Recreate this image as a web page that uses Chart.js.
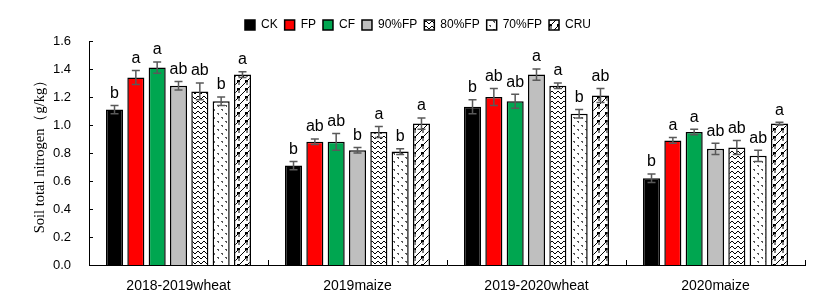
<!DOCTYPE html>
<html>
<head>
<meta charset="utf-8">
<script src="https://cdn.jsdelivr.net/npm/chart.js@4"></script>
<style>
  html, body { margin: 0; padding: 0; background: #fff; }
  #wrap { width: 825px; height: 308px; }
</style>
</head>
<body>
<div id="wrap"><canvas id="chart" width="825" height="308"></canvas></div>
<script>
const categories = ['2018-2019wheat', '2019maize', '2019-2020wheat', '2020maize'];
const treatments = ['CK', 'FP', 'CF', '90%FP', '80%FP', '70%FP', 'CRU'];

// mean values per treatment, one entry per category
const ckValues   = [1.11, 0.71, 1.13, 0.62];
const fpValues   = [1.34, 0.88, 1.20, 0.89];
const cfValues   = [1.41, 0.88, 1.17, 0.95];
const fp90Values = [1.28, 0.82, 1.36, 0.83];
const fp80Values = [1.24, 0.95, 1.28, 0.84];
const fp70Values = [1.17, 0.81, 1.08, 0.78];
const cruValues  = [1.36, 1.01, 1.21, 1.01];

// standard errors
const ckErr   = [0.03, 0.03, 0.05, 0.03];
const fpErr   = [0.05, 0.02, 0.06, 0.02];
const cfErr   = [0.04, 0.06, 0.05, 0.02];
const fp90Err = [0.03, 0.02, 0.04, 0.04];
const fp80Err = [0.06, 0.04, 0.02, 0.05];
const fp70Err = [0.03, 0.02, 0.03, 0.04];
const cruErr  = [0.02, 0.04, 0.05, 0.01];

// significance letters
const ckSig   = ['b', 'b', 'b', 'b'];
const fpSig   = ['a', 'ab', 'ab', 'a'];
const cfSig   = ['a', 'ab', 'ab', 'a'];
const fp90Sig = ['ab', 'b', 'a', 'ab'];
const fp80Sig = ['ab', 'a', 'a', 'ab'];
const fp70Sig = ['b', 'b', 'b', 'ab'];
const cruSig  = ['a', 'a', 'ab', 'a'];

const yTicks = [0, 0.2, 0.4, 0.6, 0.8, 1.0, 1.2, 1.4, 1.6];

// --- fill patterns ---
function makeTile(w, h, draw) {
  const c = document.createElement('canvas');
  c.width = w; c.height = h;
  const g = c.getContext('2d');
  g.fillStyle = '#fff';
  g.fillRect(0, 0, w, h);
  g.strokeStyle = '#000';
  g.fillStyle = '#000';
  g.lineWidth = 1;
  draw(g);
  return document.getElementById('chart').getContext('2d').createPattern(c, 'repeat');
}

const zigzag = makeTile(6, 5, g => {
  g.beginPath();
  g.moveTo(0, 1); g.lineTo(3, 4); g.lineTo(6, 1);
  g.stroke();
});

const dots = makeTile(8, 8, g => {
  g.fillStyle = '#555';
  g.fillRect(1, 1, 2, 1);
  g.fillRect(2, 2, 1, 1);
  g.fillRect(5, 5, 2, 1);
  g.fillRect(6, 6, 1, 1);
});

const lattice = makeTile(8, 8, g => {
  g.beginPath();
  g.moveTo(0, 8); g.lineTo(7, 1);
  g.moveTo(7, 1); g.lineTo(7, 5);
  g.stroke();
  g.fillRect(5, 0, 3, 2);
});

const fills = ['#000000', '#ff0000', '#00a650', '#bfbfbf', zigzag, dots, lattice];
const values = [ckValues, fpValues, cfValues, fp90Values, fp80Values, fp70Values, cruValues];
const errors = [ckErr, fpErr, cfErr, fp90Err, fp80Err, fp70Err, cruErr];
const sigs = [ckSig, fpSig, cfSig, fp90Sig, fp80Sig, fp70Sig, cruSig];

const datasets = treatments.map((t, i) => ({
  label: t,
  data: values[i],
  backgroundColor: fills[i],
  borderColor: '#000',
  borderWidth: 1.5,
  barPercentage: 0.8,
  categoryPercentage: 0.834
}));

// error bars + letters
const errorBars = {
  id: 'errorBars',
  afterDatasetsDraw(chart) {
    const ctx = chart.ctx;
    const y = chart.scales.y;
    ctx.save();
    chart.data.datasets.forEach((ds, i) => {
      const meta = chart.getDatasetMeta(i);
      meta.data.forEach((bar, j) => {
        const v = ds.data[j], e = errors[i][j];
        const top = y.getPixelForValue(v + e);
        const bot = y.getPixelForValue(v - e);
        ctx.strokeStyle = '#595959';
        ctx.lineWidth = 1.5;
        ctx.beginPath();
        ctx.moveTo(bar.x, top); ctx.lineTo(bar.x, bot);
        ctx.moveTo(bar.x - 4, top); ctx.lineTo(bar.x + 4, top);
        ctx.moveTo(bar.x - 4, bot); ctx.lineTo(bar.x + 4, bot);
        ctx.stroke();
        ctx.fillStyle = '#000';
        ctx.font = '16px "Liberation Sans", Arial, sans-serif';
        ctx.textAlign = 'center';
        ctx.textBaseline = 'bottom';
        ctx.fillText(sigs[i][j], bar.x, top - 4);
      });
    });
    ctx.restore();
  }
};

// inward tick marks
const innerTicks = {
  id: 'innerTicks',
  afterDraw(chart) {
    const ctx = chart.ctx;
    const { x, y } = chart.scales;
    ctx.save();
    ctx.strokeStyle = '#000';
    ctx.lineWidth = 1;
    ctx.beginPath();
    yTicks.forEach(v => {
      const py = Math.round(y.getPixelForValue(v)) + 0.5;
      ctx.moveTo(x.left, py); ctx.lineTo(x.left + 4, py);
    });
    const step = (x.right - x.left) / categories.length;
    for (let i = 1; i <= categories.length; i++) {
      const px = Math.round(x.left + i * step) + 0.5;
      ctx.moveTo(px, y.bottom); ctx.lineTo(px, y.bottom - 5);
    }
    ctx.stroke();
    ctx.restore();
  }
};

new Chart(document.getElementById('chart'), {
  type: 'bar',
  data: { labels: categories, datasets: datasets },
  options: {
    responsive: false,
    animation: false,
    layout: { padding: { left: 31, right: 20, top: 12, bottom: 0 } },
    plugins: {
      legend: {
        position: 'top',
        labels: {
          boxWidth: 10,
          boxHeight: 10,
          padding: 7,
          color: '#000',
          font: { family: '"Liberation Sans", Arial, sans-serif', size: 12 }
        }
      },
      tooltip: { enabled: false }
    },
    scales: {
      x: {
        grid: { display: false },
        border: { display: true, color: '#000', width: 1 },
        ticks: {
          color: '#000',
          padding: 5,
          font: { family: '"Liberation Sans", Arial, sans-serif', size: 14 }
        },
        afterFit(scale) { scale.height = 43; }
      },
      y: {
        min: 0,
        max: 1.6,
        grid: { display: false },
        border: { display: true, color: '#000', width: 1 },
        afterBuildTicks(scale) { scale.ticks = yTicks.map(v => ({ value: v })); },
        ticks: {
          color: '#000',
          padding: 10,
          font: { family: '"Liberation Sans", Arial, sans-serif', size: 13 },
          callback: v => v.toFixed(1)
        },
        title: {
          display: true,
          text: 'Soil total nitrogen（g/kg）',
          color: '#000',
          padding: 0,
          font: { family: '"Liberation Serif", "Times New Roman", serif', size: 14.5 }
        },
        afterFit(scale) { scale.width = 58; }
      }
    }
  },
  plugins: [errorBars, innerTicks]
});
</script>
</body>
</html>
